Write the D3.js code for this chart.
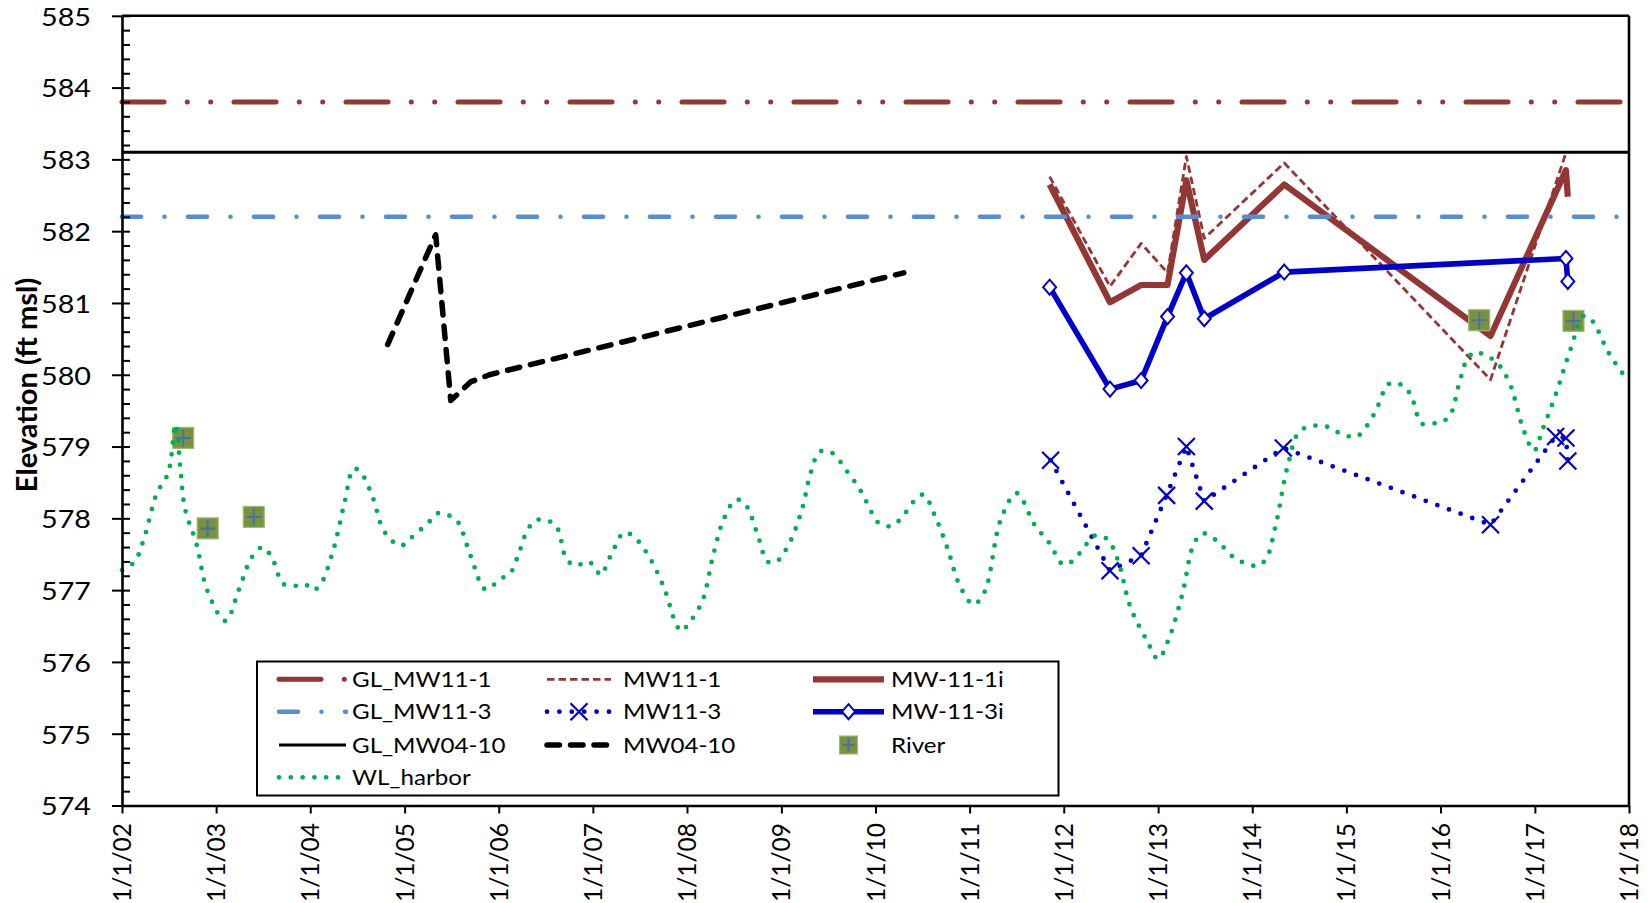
<!DOCTYPE html>
<html>
<head>
<meta charset="utf-8">
<script src="https://cdn.jsdelivr.net/npm/d3@7"></script>
<style>
  body { margin: 0; background: #fff; }
  svg { display: block; }
  text { font-family: Lato, "Open Sans", sans-serif; fill: #000; }
</style>
</head>
<body>
<svg id="chart" width="1652" height="903"></svg>
<script>
// ---- data (dates as decimal years, elevations in ft msl) ----
const glMW11_1 = 583.8;
const glMW11_3 = 582.2;
const glMW04_10 = 583.1;

const mw0410Years  = [2004.82, 2005.33, 2005.49, 2005.70, 2005.90, 2010.30];
const mw0410Levels = [580.42, 581.95, 579.64, 579.90, 580.00, 581.42];

const mw111Years  = [2011.85, 2012.49, 2012.82, 2013.10, 2013.30, 2013.49, 2014.34, 2016.53, 2017.33];
const mw111Levels = [582.76, 581.23, 581.83, 581.42, 583.04, 581.90, 582.95, 579.93, 583.09];

const mw111iYears  = [2011.85, 2012.49, 2012.82, 2013.10, 2013.30, 2013.49, 2014.34, 2016.53, 2017.33, 2017.35];
const mw111iLevels = [582.65, 581.01, 581.25, 581.25, 582.71, 581.60, 582.65, 580.54, 582.85, 582.48];

const mw113Years  = [2011.86, 2012.49, 2012.82, 2013.09, 2013.30, 2013.49, 2014.33, 2016.53, 2017.22, 2017.33, 2017.35];
const mw113Levels = [578.81, 577.27, 577.48, 578.32, 579.00, 578.24, 578.98, 577.91, 579.14, 579.12, 578.80];

const mw113iYears  = [2011.85, 2012.49, 2012.82, 2013.10, 2013.30, 2013.49, 2014.34, 2017.33, 2017.35];
const mw113iLevels = [581.22, 579.80, 579.92, 580.81, 581.42, 580.78, 581.43, 581.62, 581.30];

const riverYears  = [2002.65, 2002.91, 2003.40, 2016.41, 2017.41];
const riverLevels = [579.12, 577.86, 578.02, 580.76, 580.75];

const harborYears = [
  2002.00, 2002.13, 2002.23, 2002.37, 2002.49, 2002.57, 2002.62, 2002.67, 2002.79, 2002.91,
  2003.10, 2003.24, 2003.38, 2003.50, 2003.61, 2003.71, 2003.85, 2003.95, 2004.02, 2004.10,
  2004.24, 2004.36, 2004.46, 2004.53, 2004.66, 2004.77, 2004.90, 2004.97, 2005.07, 2005.26,
  2005.35, 2005.45, 2005.56, 2005.70, 2005.86, 2006.02, 2006.12, 2006.22, 2006.31, 2006.41,
  2006.60, 2006.72, 2006.82, 2006.94, 2007.02, 2007.08, 2007.20, 2007.33, 2007.43, 2007.59,
  2007.76, 2007.88, 2007.94, 2008.02, 2008.16, 2008.28, 2008.39, 2008.52, 2008.62, 2008.76,
  2008.85, 2008.94, 2009.08, 2009.22, 2009.31, 2009.41, 2009.54, 2009.70, 2009.84, 2009.96,
  2010.03, 2010.15, 2010.26, 2010.41, 2010.51, 2010.63, 2010.77, 2010.89, 2011.04, 2011.16,
  2011.33, 2011.50, 2011.69, 2011.85, 2011.99, 2012.09, 2012.24, 2012.33, 2012.46, 2012.57,
  2012.71, 2012.88, 2013.00, 2013.11, 2013.26, 2013.37, 2013.47, 2013.63, 2013.81, 2014.04,
  2014.14, 2014.25, 2014.38, 2014.51, 2014.75, 2014.96, 2015.11, 2015.29, 2015.46, 2015.62,
  2015.71, 2015.80, 2015.98, 2016.09, 2016.20, 2016.28, 2016.37, 2016.47, 2016.59, 2016.73,
  2016.88, 2016.99, 2017.08, 2017.22, 2017.38, 2017.52, 2017.61, 2017.79, 2018.00
];
const harborLevels = [
  577.28, 577.39, 577.70, 578.35, 578.63, 579.31, 578.70, 578.13, 577.65, 576.98,
  576.57, 577.00, 577.46, 577.60, 577.40, 577.09, 577.06, 577.08, 577.00, 577.06,
  577.54, 578.20, 578.69, 578.65, 578.30, 577.85, 577.65, 577.62, 577.73, 577.95,
  578.07, 578.05, 577.96, 577.48, 577.01, 577.16, 577.23, 577.54, 577.85, 577.98,
  577.91, 577.43, 577.34, 577.40, 577.33, 577.21, 577.51, 577.80, 577.75, 577.48,
  577.02, 576.54, 576.43, 576.54, 576.84, 577.50, 577.99, 578.26, 578.19, 577.72,
  577.40, 577.39, 577.64, 578.13, 578.63, 578.93, 578.91, 578.65, 578.39, 578.08,
  577.94, 577.89, 577.98, 578.24, 578.33, 578.04, 577.56, 577.08, 576.80, 576.98,
  577.98, 578.35, 577.91, 577.65, 577.36, 577.40, 577.64, 577.76, 577.71, 577.43,
  576.75, 576.30, 576.04, 576.31, 576.96, 577.61, 577.79, 577.68, 577.45, 577.34,
  577.42, 577.91, 578.75, 579.22, 579.29, 579.17, 579.14, 579.44, 579.88, 579.83,
  579.63, 579.32, 579.34, 579.41, 579.89, 580.21, 580.32, 580.27, 580.18, 579.89,
  579.23, 578.94, 579.23, 579.72, 580.36, 580.82, 580.75, 580.29, 579.90
];

const yTickValues = d3.range(574, 586, 1);
const xTickYears = d3.range(2002, 2019, 1);

// ---- helpers ----
function toDate(yr) {
  const y0 = Math.floor(yr);
  const a = new Date(y0, 0, 1), b = new Date(y0 + 1, 0, 1);
  return new Date(+a + (yr - y0) * (b - a));
}
function series(years, levels) {
  return years.map((t, i) => ({ date: toDate(t), value: levels[i] }));
}

// ---- layout ----
const plot = { left: 122, top: 15.8, right: 1629, bottom: 805.5 };
const svg = d3.select('#chart');

const x = d3.scaleTime()
  .domain([toDate(2002), toDate(2018)])
  .range([plot.left, plot.right]);
const y = d3.scaleLinear()
  .domain([574, 585])
  .range([plot.bottom, plot.top]);

const BROWN = '#943634', LBLUE = '#558ED5', BLUE = '#0000CC', GREEN = '#00B050';
const TEXT_SX = 1.15;

const line = d3.line().x(d => x(d.date)).y(d => y(d.value));
const smooth = d3.line().x(d => x(d.date)).y(d => y(d.value)).curve(d3.curveCatmullRom.alpha(0.5));

// ---- styles ----
const styles = {
  gl111:  { stroke: BROWN, width: 5,   dash: '42 23.3 0 23.4 0 23.3', cap: 'round' },
  gl113:  { stroke: LBLUE, width: 4.6, dash: '19 23.5 0 23.5', cap: 'round' },
  gl0410: { stroke: '#000', width: 3,  dash: null, cap: 'butt' },
  mw0410: { stroke: '#000', width: 5.5, dash: '12.5 11', cap: 'round' },
  mw111:  { stroke: BROWN, width: 2.8, dash: '7.5 4', cap: 'butt' },
  mw111i: { stroke: BROWN, width: 6.2, dash: null, cap: 'butt' },
  mw113:  { stroke: BLUE,  width: 4.8, dash: '0 12.4', cap: 'round' },
  mw113i: { stroke: BLUE,  width: 5.6, dash: null, cap: 'butt' },
  harbor: { stroke: GREEN, width: 4.8, dash: '0 11.8', cap: 'round' }
};
function applyStyle(sel, s) {
  sel.attr('fill', 'none')
    .attr('stroke', s.stroke)
    .attr('stroke-width', s.width)
    .attr('stroke-linecap', s.cap)
    .attr('stroke-linejoin', 'round');
  if (s.dash) sel.attr('stroke-dasharray', s.dash);
  return sel;
}

function drawX(g, cx, cy, r) {
  g.append('path')
    .attr('d', `M${cx - r},${cy - r}L${cx + r},${cy + r}M${cx - r},${cy + r}L${cx + r},${cy - r}`)
    .attr('stroke', BLUE).attr('stroke-width', 2.2).attr('fill', 'none');
}
function drawDiamond(g, cx, cy) {
  g.append('path')
    .attr('d', `M${cx},${cy - 7.5}L${cx + 6.5},${cy}L${cx},${cy + 7.5}L${cx - 6.5},${cy}Z`)
    .attr('stroke', BLUE).attr('stroke-width', 2).attr('fill', '#fff');
}
function drawRiver(g, cx, cy, size) {
  const h = size / 2;
  g.append('rect').attr('x', cx - h).attr('y', cy - h).attr('width', size).attr('height', size)
    .attr('fill', '#77933C').attr('stroke', '#A5B780').attr('stroke-width', 1.2);
  g.append('path')
    .attr('d', `M${cx - h + 3},${cy}L${cx + h - 3},${cy}M${cx},${cy - h + 2}L${cx},${cy + h - 2}`)
    .attr('stroke', '#4A6FB0').attr('stroke-width', 2);
}

const gMarks = svg.append('g');

// ---- wells ----
applyStyle(gMarks.append('path').attr('d', line(series(mw0410Years, mw0410Levels))), styles.mw0410);
applyStyle(gMarks.append('path').attr('d', line(series(mw113Years, mw113Levels))), styles.mw113);
applyStyle(gMarks.append('path').attr('d', line(series(mw111Years, mw111Levels))), styles.mw111);
applyStyle(gMarks.append('path').attr('d', line(series(mw111iYears, mw111iLevels))), styles.mw111i);
applyStyle(gMarks.append('path').attr('d', line(series(mw113iYears, mw113iLevels))), styles.mw113i);
series(mw113Years, mw113Levels).forEach(d => drawX(gMarks, x(d.date), y(d.value), 8.5));
series(mw113iYears, mw113iLevels).forEach(d => drawDiamond(gMarks, x(d.date), y(d.value)));

// ---- ground-level reference lines ----
const span = [toDate(2002), toDate(2018)];
[[glMW11_1, styles.gl111], [glMW11_3, styles.gl113], [glMW04_10, styles.gl0410]].forEach(([v, s]) => {
  applyStyle(gMarks.append('path').attr('d', line(span.map(d => ({ date: d, value: v })))), s);
});

// ---- river stage ----
series(riverYears, riverLevels).forEach(d => drawRiver(gMarks, x(d.date), y(d.value), 21));

// ---- harbor water level ----
applyStyle(gMarks.append('path').attr('d', smooth(series(harborYears, harborLevels))), styles.harbor);

// ---- axes ----
const yAxisOut = svg.append('g')
  .attr('transform', `translate(${plot.left},0)`)
  .call(d3.axisLeft(y).tickValues(yTickValues).tickSizeInner(10).tickSizeOuter(0).tickFormat(d3.format('d')));
const yAxisIn = svg.append('g')
  .attr('transform', `translate(${plot.left},0)`)
  .call(d3.axisRight(y).tickValues(d3.range(0, 56).map(i => 574 + i * 0.2)).tickSizeInner(8).tickSizeOuter(0).tickFormat(''));
yAxisIn.select('.domain').remove();

const xAxis = svg.append('g')
  .attr('transform', `translate(0,${plot.bottom})`)
  .call(d3.axisBottom(x).tickValues(xTickYears.map(toDate)).tickSizeInner(8).tickSizeOuter(0)
    .tickFormat(d => '1/1/' + d3.timeFormat('%y')(d)));

[yAxisOut, yAxisIn, xAxis].forEach(g => {
  g.selectAll('.tick line').attr('stroke', '#000').attr('stroke-width', 2);
  g.select('.domain').attr('stroke', '#000').attr('stroke-width', 2.6);
});

yAxisOut.selectAll('.tick text')
  .attr('x', null).attr('dy', null)
  .attr('transform', `translate(-31,9.3) scale(${TEXT_SX},1)`)
  .attr('text-anchor', 'end')
  .style('font-size', '25px')
  .style('font-family', 'Lato, sans-serif');

xAxis.selectAll('.tick text')
  .attr('x', null).attr('y', null).attr('dy', null)
  .attr('transform', 'translate(8.6,17.5) rotate(-90)')
  .attr('text-anchor', 'end')
  .style('font-size', '24.5px')
  .style('font-family', 'Lato, sans-serif');

// top and right frame
svg.append('line').attr('x1', plot.left).attr('x2', plot.right).attr('y1', plot.top).attr('y2', plot.top)
  .attr('stroke', '#000').attr('stroke-width', 2.6);
svg.append('line').attr('x1', plot.right).attr('x2', plot.right).attr('y1', plot.top).attr('y2', plot.bottom)
  .attr('stroke', '#000').attr('stroke-width', 2.6);

// axis title
svg.append('text')
  .attr('transform', `translate(37,385) rotate(-90)`)
  .attr('text-anchor', 'middle')
  .style('font-size', '29px')
  .style('font-weight', 'bold')
  .text('Elevation (ft msl)');

// ---- legend ----
const legend = svg.append('g');
legend.append('rect')
  .attr('x', 257).attr('y', 661.5).attr('width', 801.5).attr('height', 134)
  .attr('fill', '#fff').attr('stroke', '#000').attr('stroke-width', 2);

const rowsY = [679.3, 711.7, 745, 777.3];
const cols = [
  { x0: 279, x1: 346, tx: 352 },
  { x0: 547, x1: 611, tx: 623 },
  { x0: 813, x1: 884, tx: 891 }
];
const legendItems = [
  { name: 'GL_MW11-1', col: 0, row: 0, style: 'gl111' },
  { name: 'MW11-1',    col: 1, row: 0, style: 'mw111' },
  { name: 'MW-11-1i',  col: 2, row: 0, style: 'mw111i' },
  { name: 'GL_MW11-3', col: 0, row: 1, style: 'gl113' },
  { name: 'MW11-3',    col: 1, row: 1, style: 'mw113', marker: 'x' },
  { name: 'MW-11-3i',  col: 2, row: 1, style: 'mw113i', marker: 'diamond' },
  { name: 'GL_MW04-10', col: 0, row: 2, style: 'gl0410' },
  { name: 'MW04-10',   col: 1, row: 2, style: 'mw0410' },
  { name: 'River',     col: 2, row: 2, style: null, marker: 'river' },
  { name: 'WL_harbor', col: 0, row: 3, style: 'harbor' }
];
legendItems.forEach(it => {
  const c = cols[it.col], ly = rowsY[it.row];
  if (it.style) {
    applyStyle(legend.append('path').attr('d', `M${c.x0},${ly}L${c.x1},${ly}`), styles[it.style]);
  }
  const cx = (c.x0 + c.x1) / 2;
  if (it.marker === 'x') drawX(legend, cx, ly, 8.5);
  if (it.marker === 'diamond') drawDiamond(legend, cx, ly);
  if (it.marker === 'river') drawRiver(legend, cx, ly, 18);
  legend.append('text')
    .attr('transform', `translate(${c.tx},${ly + 7.6}) scale(${TEXT_SX},1)`)
    .style('font-size', '21px')
    .text(it.name);
});
</script>
</body>
</html>
